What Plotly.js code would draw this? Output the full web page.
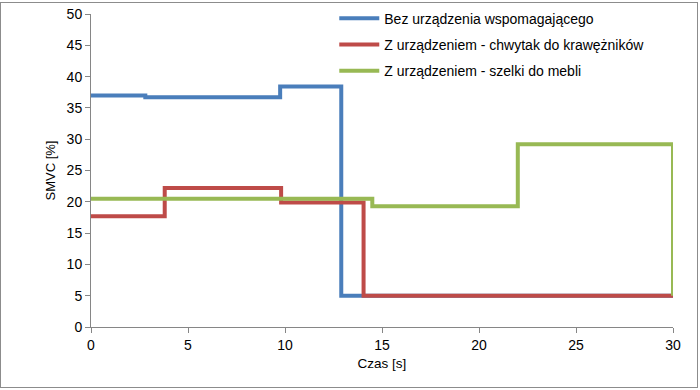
<!DOCTYPE html>
<html><head><meta charset="utf-8">
<script src="https://cdn.plot.ly/plotly-3.0.1.min.js"></script>
<style>html,body{margin:0;padding:0;background:#fff}#wrap{position:relative;width:700px;height:390px}#frame{position:absolute;left:0;top:2px;width:698px;height:386px;border:1px solid #8c8c8c;box-sizing:border-box;pointer-events:none}</style>
</head><body>
<div id="wrap"><div id="chart" style="width:700px;height:390px"></div><div id="frame"></div></div>
<script>
var seriesNames = ["Bez urządzenia wspomagającego", "Z urządzeniem - chwytak do krawężników", "Z urządzeniem - szelki do mebli"];
var blueX = [0, 2.8, 9.75, 12.9, 30];
var blueY = [37, 36.7, 38.4, 5, 5];
var redX = [0, 3.8, 9.8, 14.05, 30];
var redY = [17.7, 22.2, 19.9, 5, 5];
var greenX = [0, 14.5, 22, 30];
var greenY = [20.5, 19.3, 29.2, 5];
var colors = ["#4a7ebb", "#be4b48", "#98b954"];

var xs = [blueX, redX, greenX], ys = [blueY, redY, greenY];
var traces = xs.map(function(x, i){
  return {x: x, y: ys[i], type: 'scatter', mode: 'lines', name: seriesNames[i],
    legendgroup: 'g'+i, line: {shape: 'hv', color: colors[i], width: 4}};
});
var fam = 'Liberation Sans, Arial, sans-serif';
var font = {family: fam, size: 13, color: '#000'};
var layout = {
  width: 700, height: 390,
  margin: {l: 91, r: 27, t: 14, b: 63, autoexpand: false},
  paper_bgcolor: '#fff', plot_bgcolor: '#fff',
  font: font,
  showlegend: true,
  legend: {x: 0.418, y: 1.036, xanchor: 'left', yanchor: 'top', bgcolor: 'rgba(0,0,0,0)',
    font: {family: fam, size: 14, color: '#000'},
    traceorder: 'grouped', tracegroupgap: 5, itemwidth: 40},
  xaxis: {range: [0, 30], dtick: 5, tick0: 0, showgrid: false, zeroline: false,
    showline: true, linecolor: '#868686', linewidth: 1, ticks: 'outside', ticklen: 5, tickcolor: '#868686',
    tickfont: {family: fam, size: 14, color: '#000'}, title: {text: 'Czas [s]', font: {family: fam, size: 13.5, color: '#000'}, standoff: 6}},
  yaxis: {range: [0, 50], dtick: 5, tick0: 0, showgrid: false, zeroline: false,
    showline: true, linecolor: '#868686', linewidth: 1, ticks: 'outside', ticklen: 5, tickcolor: '#868686',
    tickfont: {family: fam, size: 14, color: '#000'}, title: {text: 'SMVC [%]', font: {family: fam, size: 13, color: '#000'}, standoff: 8}}
};
Plotly.newPlot('chart', traces, layout, {displayModeBar: false, staticPlot: true});
</script>
</body></html>
